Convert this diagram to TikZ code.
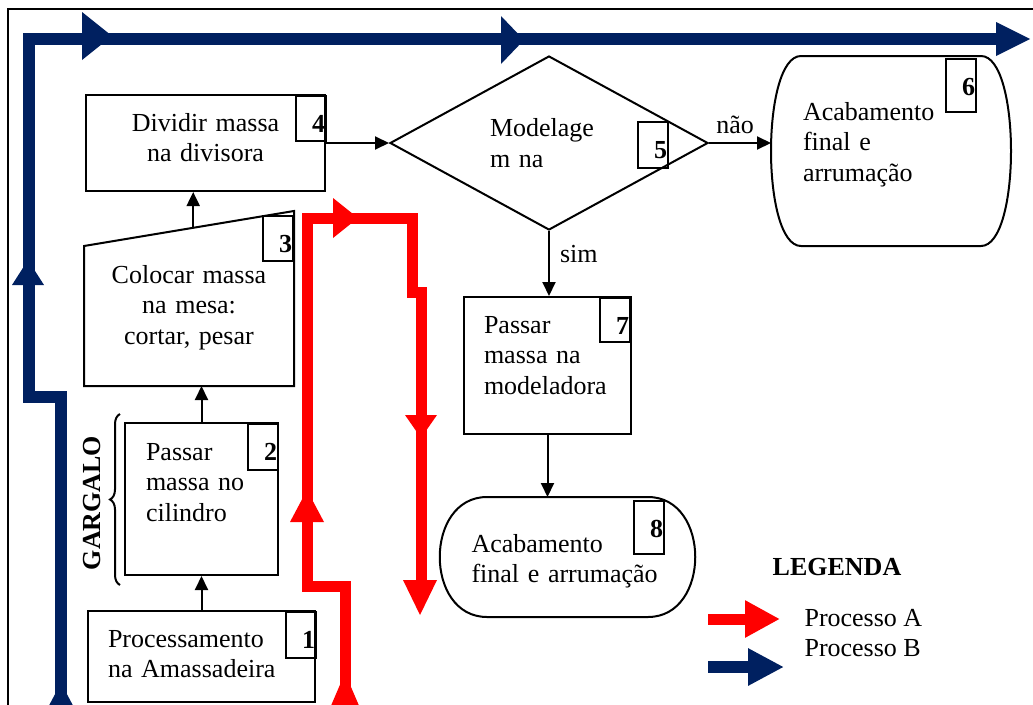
\documentclass[tikz,border=0pt]{standalone}
\usepackage{fontspec}
\setmainfont{Liberation Serif}
\usetikzlibrary{calc,arrows.meta,shapes.geometric,decorations.pathreplacing}

\definecolor{procAred}{HTML}{FF0000}
\definecolor{procBblue}{HTML}{002060}

\begin{document}
\begin{tikzpicture}[x=1pt,y=-1pt,font=\fontsize{26}{30.5}\selectfont]

	% page and outer frame (right and bottom side fall outside the page)
	\useasboundingbox (0,0) rectangle (1033,704);
	\clip (0,0) rectangle (1033,704);
	\draw[line width=1.2pt] (1045,9) -- (8,9) -- (8,720);

	% styles
	\tikzstyle{box}=[draw,line width=2pt,inner ysep=0pt,align=left];
	\tikzstyle{numbox}=[draw,line width=2pt,anchor=north west,minimum width=30pt,inner xsep=1pt,inner ysep=0pt,text width=28pt,align=right,text height=36pt,font=\fontsize{26}{30.5}\selectfont\bfseries];
	\tikzstyle{flow}=[-{Triangle[length=14pt,width=13pt]},line width=2pt];
	\tikzstyle{procA}=[line width=11pt,color=procAred];
	\tikzstyle{procB}=[line width=12pt,color=procBblue];

	% big arrow head: colour, tip, angle, length, half width
	\newcommand{\flowtip}[5]{\fill[#1,shift={#2},rotate=#3] (0,0) -- (-#4,#5) -- (-#4,-#5) -- cycle;}

	% rounded outline round a node: name, flat inset, control offset
	\newcommand{\roundcap}[3]{\draw[line width=2pt] ($(#1.north east)+(-#2,0)$) .. controls ($(#1.north east)+(#3,0)$) and ($(#1.south east)+(#3,0)$) .. ($(#1.south east)+(-#2,0)$) -- ($(#1.south west)+(#2,0)$) .. controls ($(#1.south west)+(-#3,0)$) and ($(#1.north west)+(-#3,0)$) .. ($(#1.north west)+(#2,0)$) -- cycle;}

	% process B (blue)
	\draw[procB] (61,720) -- (61,397) -- (29,397) -- (29,39) -- (1000,39);
	\flowtip{procBblue}{(112,36)}{0}{30}{24}
	\flowtip{procBblue}{(524,40)}{0}{23}{24}
	\flowtip{procBblue}{(1030,39)}{0}{34}{17}
	\flowtip{procBblue}{(28,260)}{90}{25}{16}
	\flowtip{procBblue}{(61,683)}{90}{30}{16}

	% process A (red)
	\draw[procA] (345,720) -- (345,586) -- (307,586) -- (307,218) -- (412,218) -- (412,292) -- (421,292) -- (421,590);
	\flowtip{procAred}{(345,673)}{90}{35}{15}
	\flowtip{procAred}{(307,490)}{90}{32}{17}
	\flowtip{procAred}{(358,218)}{0}{25}{20}
	\flowtip{procAred}{(421,438)}{-90}{23}{16}
	\flowtip{procAred}{(420,615)}{-90}{35}{17}

	% process steps
	\node[box,text width=187pt,inner xsep=20pt,text height=36pt,text depth=55pt] (n1) at (201.5,656.5) {Processamento\\na Amassadeira};
	\node[box,text width=111pt,inner xsep=21pt,text height=37pt,text depth=115pt] (n2) at (201.5,499) {Passar\\massa no\\cilindro};
	\node[box,draw=none,align=center,text width=180pt,inner xsep=14pt,text height=71pt,text depth=102pt] (n3) at (189,298.5) {Colocar massa\\na mesa:\\cortar, pesar};
	\node[box,align=center,text width=199pt,inner xsep=20pt,text height=36pt,text depth=60pt] (n4) at (205.5,143) {Dividir massa\\na divisora};
	\node[draw,diamond,line width=2pt,minimum width=318pt,minimum height=174pt,inner sep=0pt,text width=118pt,align=left] (n5) at (549,143) {Modelage\\m na};
	\node[box,draw=none,text width=176pt,inner xsep=31pt,text height=63pt,text depth=125pt] (n6) at (891,151) {Acabamento\\final e\\arrumação};
	\node[box,text width=127pt,inner xsep=20pt,text height=36pt,text depth=101pt] (n7) at (547.5,365.5) {Passar\\massa na\\modeladora};
	\node[box,draw=none,text width=192pt,inner xsep=30.5pt,text height=54pt,text depth=64pt] (n8) at (567.5,557) {Acabamento\\final e arrumação};

	% slanted top of step 3, rounded ends of steps 6 and 8
	\coordinate (n3tl) at ($(n3.north west)+(0,35)$);
	\draw[line width=2pt] (n3tl) -- (n3.north east) -- (n3.south east) -- (n3.south west) -- cycle;
	\roundcap{n6}{30}{10}
	\roundcap{n8}{47}{16}

	% step numbers
	\node[numbox,text depth=10pt] (b1) at (285,611) {1};
	\node[numbox,text depth=10pt] (b2) at (247,423) {2};
	\node[numbox,text depth=9pt] (b3) at (262,215) {3};
	\node[numbox,text depth=9pt] (b4) at (295,95) {4};
	\node[numbox,text depth=10pt] (b5) at (637,121) {5};
	\node[numbox,text depth=17pt] (b6) at (945,58) {6};
	\node[numbox,text depth=8pt] (b7) at (599,297) {7};
	\node[numbox,text depth=17pt] (b8) at (633,500) {8};

	% connectors
	\draw[flow] (n1.north) -- (n2.south);
	\draw[flow] (n2.north) -- (n2.north |- n3.south);
	\coordinate (n3top) at ($(n3tl)!0.52!(n3.north east)$);
	\draw[flow] (n3top) -- (n3top |- n4.south);
	\draw[flow] (n4.east) -- (n5.west);
	\draw[flow] (n5.east) -- (n5.east -| n6.west) node[pos=.42,above,inner sep=8pt] (nao) {não};
	\draw[flow] (n5.south) -- (n5.south |- n7.north) node[pos=.36,right,inner sep=10pt] (sim) {sim};
	\draw[flow] (n7.south) -- (n7.south |- n8.north);

	% bottleneck
	\draw[line width=2pt,decorate,decoration={brace,amplitude=10pt}] ($(n2.south west)+(-4,9)$) -- ($(n2.north west)+(-4,-8)$);
	\node[rotate=90,font=\fontsize{26}{30.5}\selectfont\bfseries] (gargalo) at (92,503) {GARGALO};

	% legend
	\node[font=\fontsize{26}{30.5}\selectfont\bfseries] (legenda) at (837,567) {LEGENDA};
	\draw[procA,-{Triangle[length=35pt,width=35pt]}] (708,619) -- (780,619);
	\draw[procB,-{Triangle[length=36pt,width=35pt]}] (708,667) -- (784,667);
	\node[anchor=west] (labelA) at (801,618) {Processo A};
	\node[anchor=west] (labelB) at (801,648) {Processo B};

\end{tikzpicture}
\end{document}
